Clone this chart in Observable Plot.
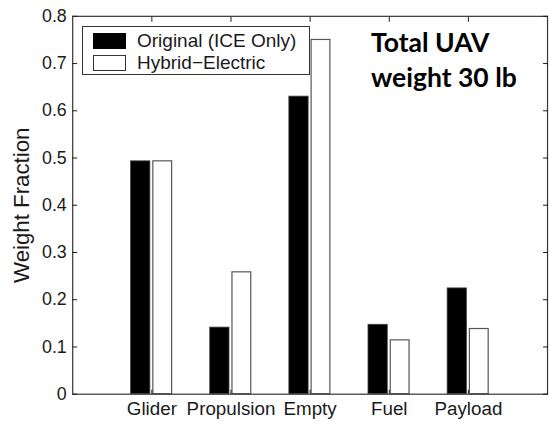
<!DOCTYPE html>
<html><head><meta charset="utf-8">
<script src="https://cdn.jsdelivr.net/npm/d3@7"></script>
<script src="https://cdn.jsdelivr.net/npm/@observablehq/plot@0.6"></script>
<style>
body{margin:0;background:#fff;overflow:hidden}
#wrap{position:relative;width:550px;height:424px;overflow:hidden;font-family:"Liberation Sans",Arial,sans-serif;color:#1a1a1a}
#legend{position:absolute;left:82px;top:26px;width:228px;height:49px;border:1px solid #333;background:#fff;box-sizing:border-box}
.item{position:absolute;left:10px;display:flex;align-items:center;font-size:19px;line-height:19px}
.sw{width:33px;height:16px;box-sizing:border-box;margin-right:11px}
#note{position:absolute;left:371px;top:25px;font-family:Lato,"Open Sans",sans-serif;font-weight:bold;font-size:26.5px;line-height:35px;color:#000}
</style></head>
<body><div id="wrap"></div>
<script>
const categories = ["Glider", "Propulsion", "Empty", "Fuel", "Payload"];
const originalValues = [0.493, 0.141, 0.63, 0.147, 0.224];
const hybridValues = [0.493, 0.258, 0.75, 0.114, 0.138];
const seriesNames = ["Original (ICE Only)", "Hybrid\u2212Electric"];
const yTicks = [0, 0.1, 0.2, 0.3, 0.4, 0.5, 0.6, 0.7, 0.8];
const yLabel = "Weight Fraction";
const noteLines = ["Total UAV", "weight 30 lb"];

const origRows = categories.map((c, i) => ({category: c, value: originalValues[i]}));
const hybRows = categories.map((c, i) => ({category: c, value: hybridValues[i]}));

const chart = Plot.plot({
  width: 556,
  height: 424,
  marginLeft: 73,
  marginRight: 3,
  marginTop: 16,
  marginBottom: 26,
  style: {fontSize: "18px", fontFamily: "'Liberation Sans', Arial, sans-serif", color: "#1a1a1a", background: "#fff", overflow: "visible"},
  x: {domain: categories, paddingInner: 0, paddingOuter: 0.5},
  y: {domain: [0, 0.8]},
  marks: [
    Plot.barY(origRows, {x: "category", y: "value", fill: "#000", stroke: "#444", strokeWidth: 0.8, insetLeft: 19, insetRight: 41.5}),
    Plot.barY(hybRows, {x: "category", y: "value", fill: "#fff", stroke: "#555", strokeWidth: 1.2, insetLeft: 41.5, insetRight: 19.5}),
    Plot.frame({stroke: "#333", strokeWidth: 1.2}),
    Plot.axisY({ticks: yTicks, tickSize: -5, tickPadding: 11, fontSize: 18, tickFormat: d => String(+d.toFixed(1)), label: null}),
    Plot.axisY({anchor: "right", ticks: yTicks, tickSize: -5, tickFormat: () => "", label: null}),
    Plot.axisX({tickSize: -4, tickPadding: 12, fontSize: 19, label: null}),
    Plot.axisX({anchor: "top", tickSize: -5, tickFormat: () => "", label: null}),
    Plot.text([yLabel], {text: d => d, frameAnchor: "left", textAnchor: "middle", rotate: -90, dx: -51, fontSize: 22.5, fill: "#1a1a1a"})
  ]
});

const wrap = document.getElementById("wrap");
wrap.appendChild(chart);

const legend = document.createElement("div");
legend.id = "legend";
const swatchStyles = [{background: "#000", border: "1px solid #000"}, {background: "#fff", border: "1px solid #333"}];
seriesNames.forEach((name, i) => {
  const item = document.createElement("div");
  item.className = "item";
  item.style.top = (i === 0 ? 4 : 26) + "px";
  const sw = document.createElement("div");
  sw.className = "sw";
  Object.assign(sw.style, swatchStyles[i]);
  const t = document.createElement("span");
  t.textContent = name;
  item.appendChild(sw);
  item.appendChild(t);
  legend.appendChild(item);
});
wrap.appendChild(legend);

const note = document.createElement("div");
note.id = "note";
noteLines.forEach(l => { const d = document.createElement("div"); d.textContent = l; note.appendChild(d); });
wrap.appendChild(note);
</script>
</body></html>
